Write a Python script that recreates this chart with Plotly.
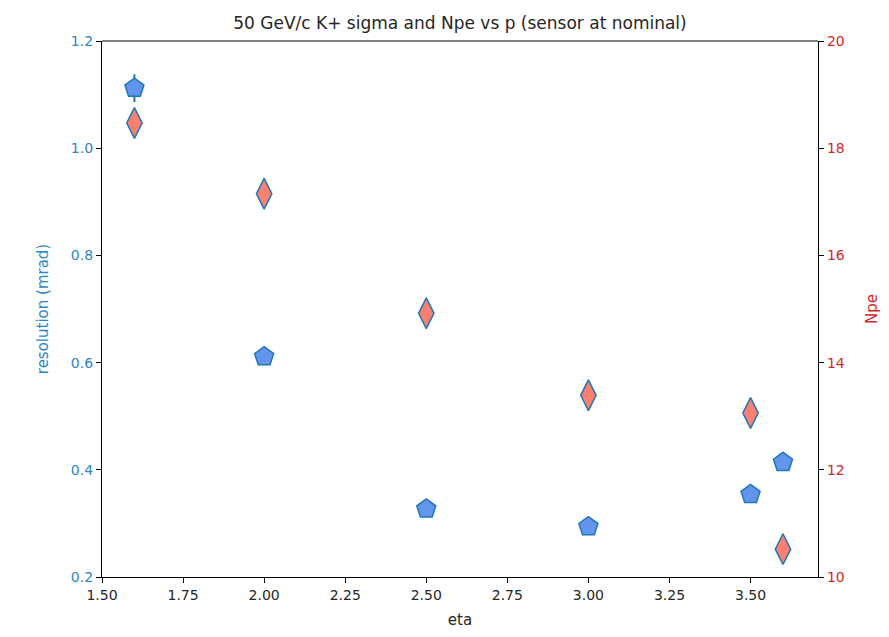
import plotly.graph_objects as go

eta = [1.6, 2.0, 2.5, 3.0, 3.5, 3.6]
resolution = [1.112, 0.611, 0.327, 0.294, 0.354, 0.414]
resolution_err = [0.026, 0.005, 0.004, 0.004, 0.004, 0.005]
npe = [18.47, 17.15, 14.92, 13.39, 13.06, 10.52]

BLUE = "#1f77b4"
TICKBLUE = "#2f86c4"
RED = "#d62728"
FONT = "DejaVu Sans"

fig = go.Figure()
fig.add_trace(go.Scatter(
    x=eta, y=resolution, mode="markers", yaxis="y",
    error_y=dict(type="data", array=resolution_err, color=BLUE, thickness=2, width=0),
    marker=dict(symbol="pentagon", size=20, color="#6495ED", line=dict(color=BLUE, width=1.5)),
    showlegend=False,
))
fig.add_trace(go.Scatter(
    x=eta, y=npe, mode="markers", yaxis="y2",
    marker=dict(symbol="diamond-tall", size=22, color="#FA8072", line=dict(color=BLUE, width=1.5)),
    showlegend=False,
))

axis_common = dict(showgrid=False, zeroline=False, ticks="outside", ticklen=5, tickwidth=1,
                   tickcolor="black", showline=True, linecolor="black", linewidth=1.2, mirror=False)

fig.update_layout(
    width=889, height=637,
    margin=dict(l=102, r=69, t=41, b=60),
    paper_bgcolor="white", plot_bgcolor="white",
    font=dict(family=FONT, size=14, color="#262626"),
    title=dict(text="50 GeV/c K+ sigma and Npe vs p (sensor at nominal)", x=0.5, xref="paper",
               xanchor="center", y=1, yref="paper", yanchor="bottom", pad=dict(b=12),
               font=dict(family=FONT, size=17, color="#262626")),
    xaxis=dict(range=[1.5, 3.708], tickvals=[1.5, 1.75, 2.0, 2.25, 2.5, 2.75, 3.0, 3.25, 3.5],
               ticktext=["1.50", "1.75", "2.00", "2.25", "2.50", "2.75", "3.00", "3.25", "3.50"],
               tickfont=dict(size=14, color="#262626"),
               title=dict(text="eta", standoff=12, font=dict(size=15, color="#262626")),
               **axis_common),
    yaxis=dict(range=[0.2, 1.2], tickvals=[0.2, 0.4, 0.6, 0.8, 1.0, 1.2],
               ticktext=["0.2", "0.4", "0.6", "0.8", "1.0", "1.2"],
               tickfont=dict(size=14, color=TICKBLUE),
               title=dict(text="resolution (mrad)", standoff=18, font=dict(size=15, color=TICKBLUE)),
               **axis_common),
    yaxis2=dict(range=[10, 20], tickvals=[10, 12, 14, 16, 18, 20], overlaying="y", side="right",
                anchor="x", tickfont=dict(size=14, color=RED),
                title=dict(text="Npe", standoff=22, font=dict(size=15, color=RED)),
                **axis_common),
)
fig.add_shape(type="line", xref="paper", yref="paper", x0=0, x1=1, y0=1, y1=1,
              line=dict(color="black", width=1.2))

fig.write_html("out.html")
